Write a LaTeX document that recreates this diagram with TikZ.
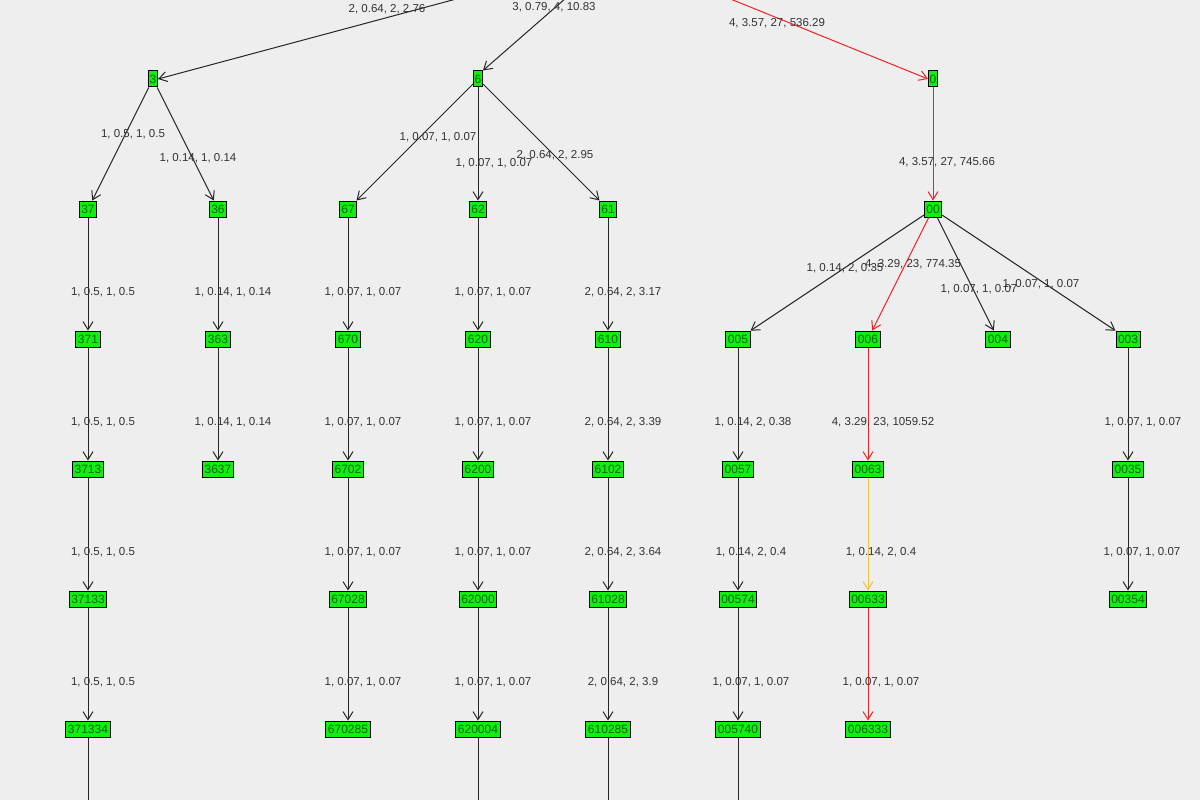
\documentclass[tikz,border=0pt]{standalone}
\usepackage{fontspec}
\setmainfont{Liberation Sans}
\usetikzlibrary{arrows.meta}
\definecolor{bg}{HTML}{EEEEEE}
\definecolor{ng}{HTML}{11EE11}
\definecolor{tx}{HTML}{333333}
\definecolor{rd}{HTML}{EE2222}
\definecolor{og}{HTML}{F0C040}
\begin{document}
\begin{tikzpicture}[x=1pt,y=-1pt,
  nd/.style={draw=black,fill=ng,line width=1pt,inner xsep=2pt,inner ysep=0pt,minimum height=16pt,font=\fontsize{12}{12}\selectfont,text=black!60!green},
  ed/.style={draw=black!85,line width=1pt,-{Straight Barb[length=8pt,width=10pt]}},
  redE/.style={draw=rd},
  orgE/.style={draw=og},
  lb/.style={font=\fontsize{11.5}{12}\selectfont,text=tx,inner sep=0pt}]
\fill[bg] (0,0) rectangle (1200,800);
\clip (0,0) rectangle (1200,800);
\useasboundingbox (0,0) rectangle (1200,800);
\coordinate (t1) at (460,-2);
\coordinate (t2) at (566,-2);
\coordinate (t3) at (728,-2);
\node[nd,minimum width=9pt,inner xsep=0pt] (n3) at (153,79) {3};
\node[nd,minimum width=9pt,inner xsep=0pt] (n6) at (478,79) {6};
\node[nd,minimum width=9pt,inner xsep=0pt] (n0) at (933,79) {0};
\foreach \x/\t in {88/37,218/36,348/67,478/62,608/61,933/00}
  \node[nd] (n\t) at (\x,209) {\t};
\foreach \x/\t in {88/371,218/363,348/670,478/620,608/610,738/005,868/006,998/004,1128/003}
  \node[nd] (n\t) at (\x,339) {\t};
\foreach \x/\t in {88/3713,218/3637,348/6702,478/6200,608/6102,738/0057,868/0063,1128/0035}
  \node[nd] (n\t) at (\x,469) {\t};
\foreach \x/\t in {88/37133,348/67028,478/62000,608/61028,738/00574,868/00633,1128/00354}
  \node[nd] (n\t) at (\x,599) {\t};
\foreach \x/\t in {88/371334,348/670285,478/620004,608/610285,738/005740,868/006333}
  \node[nd] (n\t) at (\x,729) {\t};
\foreach \x/\t in {88/371334,478/620004,608/610285,738/005740}
  {\coordinate (b\t) at (\x,802); \draw[draw=black!85,line width=1pt] (n\t) -- (b\t);}
% edges
\draw[ed] (t1) -- (n3.east);
\draw[ed] (t2) -- (n6.north east);
\draw[ed,redE] (t3) -- (n0.west);
\draw[ed,redE] (n0.south) -- (n00.north);
\foreach \a/\b in {3/37,3/36,6/67,6/62,6/61,00/005,00/004,00/003,
  37/371,36/363,67/670,62/620,61/610,
  371/3713,363/3637,670/6702,620/6200,610/6102,005/0057,003/0035,
  3713/37133,6702/67028,6200/62000,6102/61028,0057/00574,0035/00354,
  37133/371334,67028/670285,62000/620004,61028/610285,00574/005740}
  \draw[ed] (n\a) -- (n\b);
\draw[ed,redE] (n00) -- (n006);
\draw[ed,redE] (n006) -- (n0063);
\draw[ed,orgE] (n0063) -- (n00633);
\draw[ed,redE] (n00633) -- (n006333);
% labels
\node[lb] (l1) at (387,9) {2, 0.64, 2, 2.76};
\node[lb] (l2) at (554,7) {3, 0.79, 4, 10.83};
\node[lb] (l3) at (777,23) {4, 3.57, 27, 536.29};
\node[lb] (l4) at (133,134) {1, 0.5, 1, 0.5};
\node[lb] (l5) at (198,158) {1, 0.14, 1, 0.14};
\node[lb] (l6) at (438,137) {1, 0.07, 1, 0.07};
\node[lb] (l7) at (494,163) {1, 0.07, 1, 0.07};
\node[lb] (l8) at (555,155) {2, 0.64, 2, 2.95};
\node[lb] (l9) at (947,162) {4, 3.57, 27, 745.66};
\node[lb] (l10) at (845,268) {1, 0.14, 2, 0.35};
\node[lb] (l11) at (913,264) {4, 3.29, 23, 774.35};
\node[lb] (l12) at (979,289) {1, 0.07, 1, 0.07};
\node[lb] (l13) at (1041,284) {1, 0.07, 1, 0.07};
\foreach \x/\t [count=\i] in {103/{1, 0.5, 1, 0.5},233/{1, 0.14, 1, 0.14},363/{1, 0.07, 1, 0.07},493/{1, 0.07, 1, 0.07},623/{2, 0.64, 2, 3.17}}
  \node[lb] (ra\i) at (\x,292) {\t};
\foreach \x/\t [count=\i] in {103/{1, 0.5, 1, 0.5},233/{1, 0.14, 1, 0.14},363/{1, 0.07, 1, 0.07},493/{1, 0.07, 1, 0.07},623/{2, 0.64, 2, 3.39},753/{1, 0.14, 2, 0.38},883/{4, 3.29, 23, 1059.52},1143/{1, 0.07, 1, 0.07}}
  \node[lb] (rb\i) at (\x,422) {\t};
\foreach \x/\t [count=\i] in {103/{1, 0.5, 1, 0.5},363/{1, 0.07, 1, 0.07},493/{1, 0.07, 1, 0.07},623/{2, 0.64, 2, 3.64},751/{1, 0.14, 2, 0.4},881/{1, 0.14, 2, 0.4},1142/{1, 0.07, 1, 0.07}}
  \node[lb] (rc\i) at (\x,552) {\t};
\foreach \x/\t [count=\i] in {103/{1, 0.5, 1, 0.5},363/{1, 0.07, 1, 0.07},493/{1, 0.07, 1, 0.07},623/{2, 0.64, 2, 3.9},751/{1, 0.07, 1, 0.07},881/{1, 0.07, 1, 0.07}}
  \node[lb] (rd\i) at (\x,682) {\t};
\end{tikzpicture}
\end{document}
